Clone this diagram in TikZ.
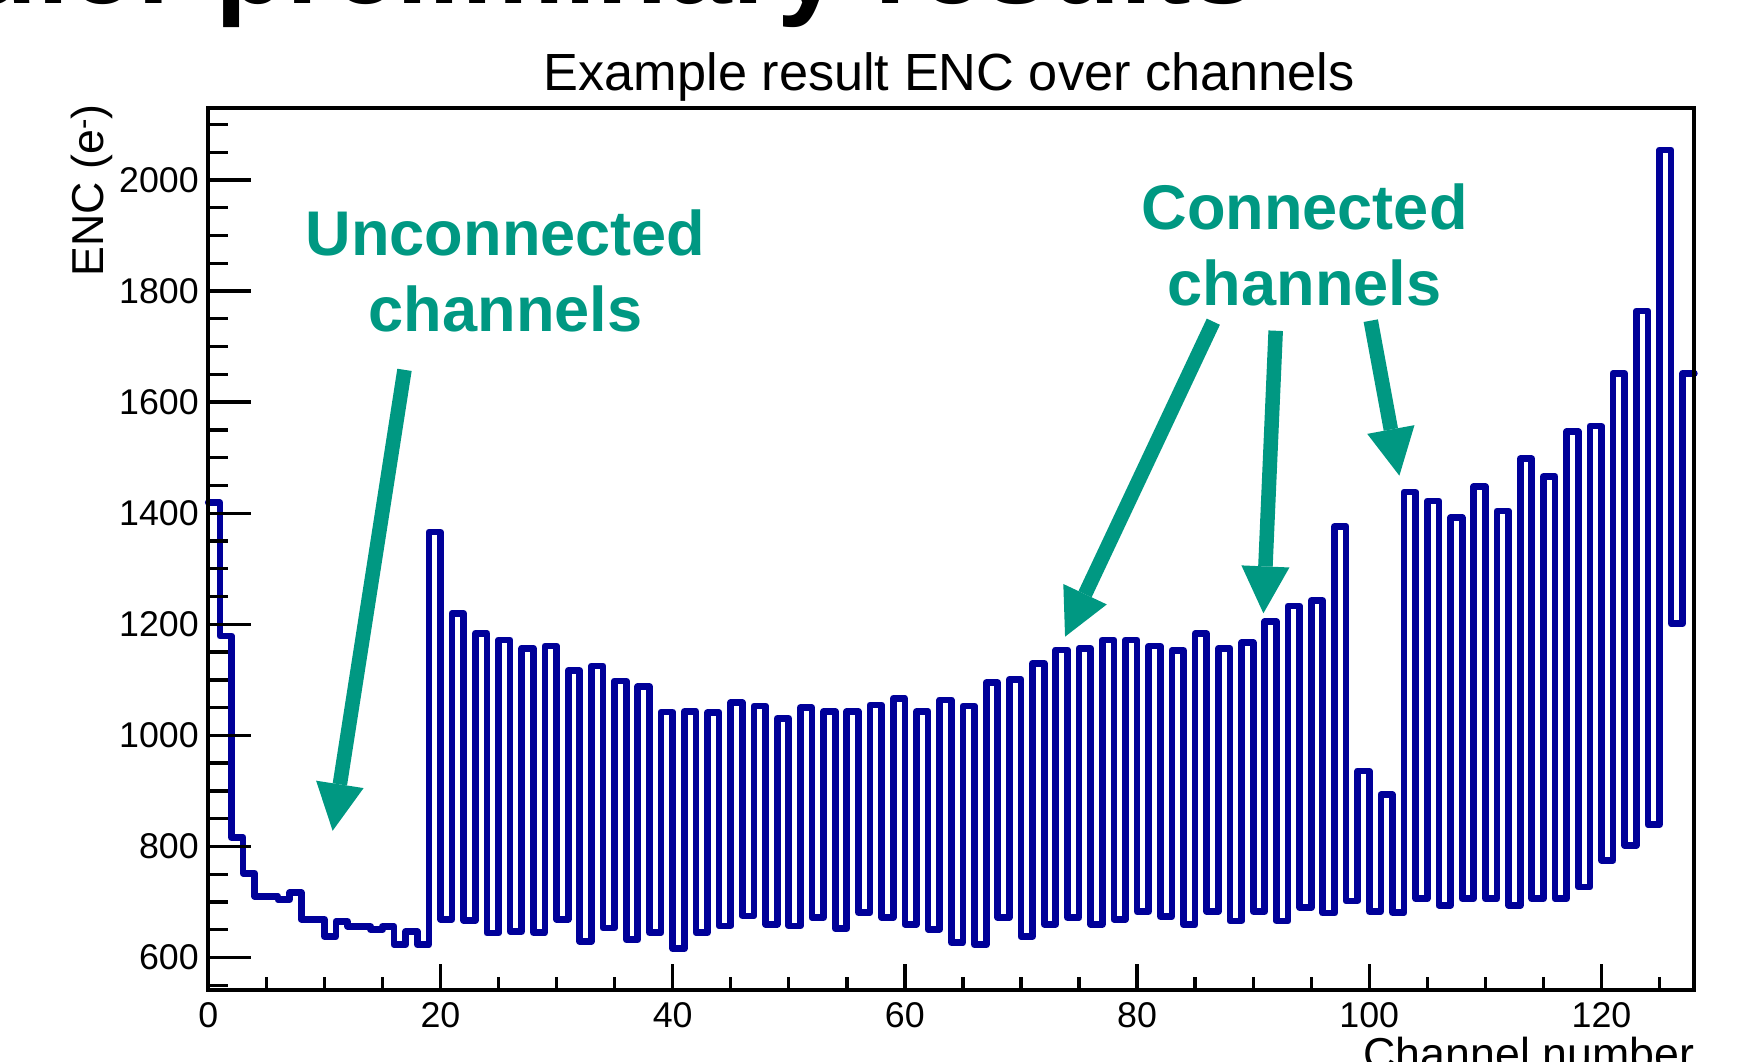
\documentclass[tikz,border=0pt]{standalone}
\usepackage{fontspec}
\setmainfont{Liberation Sans}
\usetikzlibrary{arrows.meta}
\definecolor{histblue}{RGB}{0,0,153}
\definecolor{tealc}{RGB}{0,152,130}
\begin{document}
\begin{tikzpicture}[x=1pt,y=-1pt,
  hist/.style={draw=histblue, line width=6pt, line join=round, line cap=round},
  framebox/.style={line width=3.5pt},
  tickline/.style={line width=3pt},
  ticklab/.style={font=\fontsize{32}{38}\selectfont, inner sep=0pt},
  axtitle/.style={font=\fontsize{40}{48}\selectfont, inner sep=0pt},
  annot/.style={font=\fontsize{56.5}{68}\selectfont\bfseries, text=tealc, inner sep=0pt, anchor=base},
  bigarrow/.style={draw=tealc, line width=13pt, -{Triangle[length=42pt,width=43pt,line width=0pt]}},
]
\clip (0,0) rectangle (1568,950);
% slide title (cut off)
\node[font=\fontsize{104}{120}\selectfont\bfseries, anchor=base east, inner sep=0pt] (slide) at (1124,3) {Module: preliminary results};
% plot title
\node[font=\fontsize{46.8}{56}\selectfont, anchor=base, inner sep=0pt] (title) at (849.5,81) {Example result ENC over channels};
% histogram
\draw[hist] (186.4,{857-(1419-600)*0.4971})
  \foreach \v [count=\i from 0] in {1419,1179,816,752,710,710,704,717,669,669,638,665,656,656,650,656,623,647,623,1366,
    669,1220,667,1184,644,1172,647,1157,645,1161,669,1117,629,1125,653,1098,632,1088,645,1042,
    616,1043,645,1041,657,1059,675,1053,660,1031,657,1050,672,1043,652,1043,681,1055,672,1067,
    660,1043,651,1064,627,1053,623,1095,672,1101,638,1130,660,1154,672,1157,660,1172,669,1172,
    683,1161,674,1153,659,1183,683,1157,666,1167,683,1205,666,1233,690,1243,680,1376,702,936,
    683,893,681,1438,706,1422,694,1392,706,1448,706,1404,694,1498,706,1466,706,1547,727,1557,
    775,1652,802,1764,839,2054,1201,1652}
  { -- ({186.4+10.3906*\i},{857-(\v-600)*0.4971}) -- ({186.4+10.3906*(\i+1)},{857-(\v-600)*0.4971}) };
% frame
\draw[framebox] (186.4,97) rectangle (1516.4,886);
% y ticks
\foreach \v in {550,600,...,2100}
  \draw[tickline] (186.4,{857-(\v-600)*0.4971}) -- ++(18,0);
\foreach \v in {600,800,...,2000}{
  \draw[tickline] (186.4,{857-(\v-600)*0.4971}) -- ++(38,0);
  \node[ticklab, anchor=east] (yl\v) at (178,{857-(\v-600)*0.4971}) {\v};
}
% x ticks
\foreach \c in {5,10,...,125}
  \draw[tickline] ({186.4+10.3906*\c},886) -- ++(0,-12);
\foreach \c in {0,20,...,120}{
  \draw[tickline] ({186.4+10.3906*\c},886) -- ++(0,-23);
  \node[ticklab, anchor=north] (xl\c) at ({186.4+10.3906*\c},897) {\c};
}
% axis titles
\node[axtitle, anchor=north east] (xt) at (1516.4,928) {Channel number};
\node[axtitle, rotate=90, anchor=base east] (yt) at (93,93) {ENC (e\textsuperscript{-})};
% annotations
\node[annot] (unc1) at (452.5,229) {Unconnected};
\node[annot] (unc2) at (452.5,297) {channels};
\node[annot] (con1) at (1167.5,205) {Connected};
\node[annot] (con2) at (1167.5,273) {channels};
% arrows
\coordinate (ua) at (362,331);
\coordinate (ub) at (297.7,743.5);
\coordinate (c1a) at (1085.9,287.9);
\coordinate (c1b) at (953.2,569.8);
\coordinate (c2a) at (1141.7,296);
\coordinate (c2b) at (1130.7,548.9);
\coordinate (c3a) at (1226.8,287);
\coordinate (c3b) at (1252.4,425.7);
\draw[bigarrow] (ua) -- (ub);
\draw[bigarrow] (c1a) -- (c1b);
\draw[bigarrow] (c2a) -- (c2b);
\draw[bigarrow] (c3a) -- (c3b);
\end{tikzpicture}
\end{document}
